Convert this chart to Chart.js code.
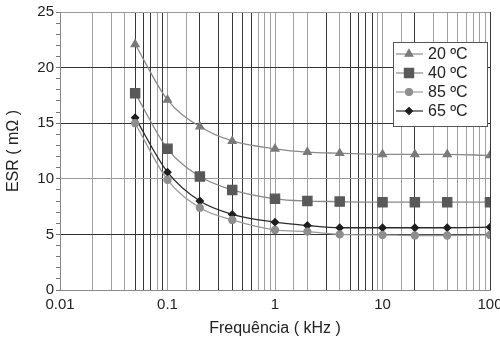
<!DOCTYPE html>
<html>
<head>
<meta charset="utf-8">
<script src="https://cdn.jsdelivr.net/npm/chart.js@4/dist/chart.umd.min.js"></script>
<style>
  html, body { margin: 0; padding: 0; background: #fff; overflow: hidden; }
  #wrap { width: 510px; height: 342px; }
</style>
</head>
<body>
<div id="wrap"><canvas id="esrChart"></canvas></div>
<script>
// frequencies in kHz
const freqs = [0.05, 0.1, 0.2, 0.4, 1, 2, 4, 10, 20, 40, 100];

const esr20 = [22.1, 17.1, 14.7, 13.4, 12.7, 12.4, 12.3, 12.2, 12.2, 12.2, 12.1];
const esr40 = [17.7, 12.7, 10.2, 9.0, 8.2, 8.0, 7.95, 7.9, 7.9, 7.9, 7.9];
const esr85 = [15.0, 9.9, 7.4, 6.3, 5.4, 5.25, 5.0, 4.95, 4.9, 4.9, 4.95];
const esr65 = [15.5, 10.6, 8.0, 6.8, 6.1, 5.8, 5.6, 5.6, 5.6, 5.6, 5.65];

const seriesLabels = ['20 ºC', '40 ºC', '85 ºC', '65 ºC'];
const xTickLabels = ['0.01', '0.1', '1', '10', '100'];

// vertical gridlines that look black in the original scan
const darkLines = [0.05, 0.06, 0.07, 0.09, 0.2, 0.3, 0.4, 0.5, 0.6, 3, 5, 6, 7, 8, 20, 100];

const FONT = '"Liberation Sans", Arial, sans-serif';

function toPoints(vals) {
    return vals.map((v, i) => ({ x: freqs[i], y: v }));
}

function isDark(v) {
    return darkLines.some(d => Math.abs(d - v) / d < 1e-6);
}

// legend drawn inside the plot, line + marker like the original
const boxLegend = {
    id: 'boxLegend',
    afterDraw(chart) {
        const ctx = chart.ctx;
        const x0 = 393, y0 = 42, w = 94, h = 84;
        ctx.save();
        ctx.fillStyle = '#fff';
        ctx.fillRect(x0, y0, w, h);
        ctx.strokeStyle = '#555';
        ctx.lineWidth = 1;
        ctx.strokeRect(x0 + 0.5, y0 + 0.5, w, h);
        const rows = [54, 73, 92, 111];
        chart.data.datasets.forEach((ds, i) => {
            const y = rows[i];
            ctx.strokeStyle = ds.borderColor;
            ctx.lineWidth = 1.2;
            ctx.beginPath();
            ctx.moveTo(396, y);
            ctx.lineTo(423, y);
            ctx.stroke();
            ctx.fillStyle = ds.pointBackgroundColor;
            ctx.strokeStyle = ds.pointBorderColor;
            Chart.helpers.drawPoint(ctx, {
                pointStyle: ds.pointStyle,
                radius: ds.pointRadius,
                rotation: ds.pointRotation || 0,
                borderWidth: 1
            }, 409, y);
            ctx.fillStyle = '#222';
            ctx.font = '16px ' + FONT;
            ctx.textBaseline = 'middle';
            ctx.textAlign = 'left';
            ctx.fillText(seriesLabels[i], 428, y + 1);
        });
        ctx.restore();
    }
};

const ctx = document.getElementById('esrChart');

new Chart(ctx, {
    type: 'line',
    data: {
        datasets: [
            {
                label: seriesLabels[0],
                data: toPoints(esr20),
                borderColor: '#8a8a8a',
                borderWidth: 1.3,
                pointStyle: 'triangle',
                pointRadius: 4.5,
                pointBackgroundColor: '#7a7a7a',
                pointBorderColor: '#7a7a7a',
                cubicInterpolationMode: 'monotone'
            },
            {
                label: seriesLabels[1],
                data: toPoints(esr40),
                borderColor: '#888',
                borderWidth: 1.3,
                pointStyle: 'rect',
                pointRadius: 6.5,
                pointBackgroundColor: '#595959',
                pointBorderColor: '#595959',
                cubicInterpolationMode: 'monotone'
            },
            {
                label: seriesLabels[2],
                data: toPoints(esr85),
                borderColor: '#9a9a9a',
                borderWidth: 1.3,
                pointStyle: 'circle',
                pointRadius: 3.5,
                pointBackgroundColor: '#8e8e8e',
                pointBorderColor: '#8e8e8e',
                cubicInterpolationMode: 'monotone'
            },
            {
                label: seriesLabels[3],
                data: toPoints(esr65),
                borderColor: '#2a2a2a',
                borderWidth: 1.3,
                pointStyle: 'rectRot',
                pointRadius: 3.5,
                pointBackgroundColor: '#1e1e1e',
                pointBorderColor: '#1e1e1e',
                cubicInterpolationMode: 'monotone'
            }
        ]
    },
    options: {
        responsive: true,
        maintainAspectRatio: false,
        animation: false,
        layout: { padding: { top: 12, right: 20, left: 0, bottom: 0 } },
        plugins: {
            legend: { display: false },
            tooltip: { enabled: false }
        },
        scales: {
            x: {
                type: 'logarithmic',
                min: 0.01,
                max: 100,
                afterFit: s => { s.height = 52; },
                border: { color: '#888', width: 1 },
                grid: {
                    drawTicks: false,
                    color: c => (c.tick && isDark(c.tick.value)) ? '#383838' : '#a0a0a0',
                    lineWidth: 1
                },
                ticks: {
                    autoSkip: false,
                    maxRotation: 0,
                    padding: 6,
                    color: '#222',
                    font: { family: FONT, size: 15 },
                    callback: function (v) {
                        const e = Math.log10(v);
                        if (Math.abs(e - Math.round(e)) < 1e-6) {
                            return xTickLabels[Math.round(e) + 2];
                        }
                        return '';
                    }
                },
                title: {
                    display: true,
                    text: 'Frequência ( kHz )',
                    color: '#222',
                    padding: { top: 3 },
                    font: { family: FONT, size: 16 }
                }
            },
            y: {
                min: 0,
                max: 25,
                afterFit: s => { s.width = 60; },
                border: { color: '#888', width: 1 },
                grid: {
                    color: c => {
                        const v = c.tick ? c.tick.value : 0;
                        if (v % 5 !== 0) return 'rgba(0,0,0,0)';
                        return v === 10 || v === 25 ? '#999' : '#333';
                    },
                    tickColor: '#777',
                    tickLength: 4
                },
                ticks: {
                    stepSize: 1,
                    autoSkip: false,
                    padding: 2,
                    color: '#222',
                    font: { family: FONT, size: 15 },
                    callback: v => (v % 5 === 0 ? String(v) : '')
                },
                title: {
                    display: true,
                    text: 'ESR ( mΩ )',
                    color: '#222',
                    padding: { bottom: 0 },
                    font: { family: FONT, size: 16 }
                }
            }
        }
    },
    plugins: [boxLegend]
});
</script>
</body>
</html>
